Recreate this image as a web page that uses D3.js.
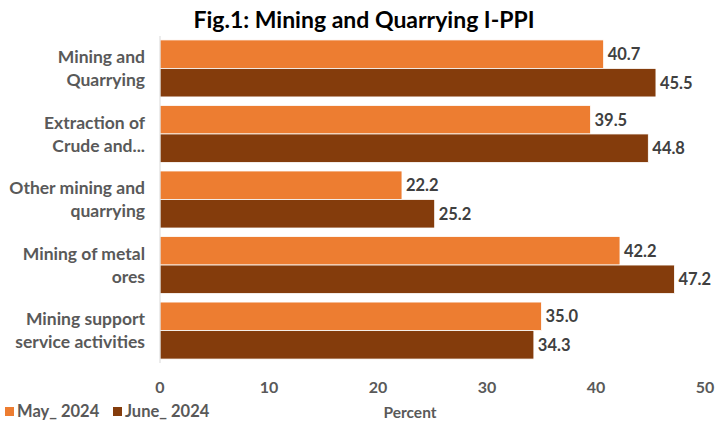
<!DOCTYPE html>
<html>
<head>
<meta charset="utf-8">
<script src="https://cdn.jsdelivr.net/npm/d3@7"></script>
<style>
  body { margin: 0; background: #fff; }
  text { font-family: Lato, "Open Sans", sans-serif; font-weight: bold; }
</style>
</head>
<body>
<svg width="715" height="426"></svg>
<script>
// data
const categories = [
  ["Mining and", "Quarrying"],
  ["Extraction of", "Crude and..."],
  ["Other mining and", "quarrying"],
  ["Mining of metal", "ores"],
  ["Mining support", "service activities"]
];
const may2024 = [40.7, 39.5, 22.2, 42.2, 35.0];
const june2024 = [45.5, 44.8, 25.2, 47.2, 34.3];
const seriesNames = ["May_ 2024", "June_ 2024"];
const xTicks = [0, 10, 20, 30, 40, 50];

const colors = ["#ED7D31", "#843C0C"];

let svg = d3.select("svg");

const plotLeft = 160, plotRight = 705, plotTop = 36, plotBottom = 363;

let yScale = d3.scaleBand()
    .domain(d3.range(categories.length))
    .range([plotTop, plotBottom])
    .paddingInner(0.13)
    .paddingOuter(0.06);

let sub = d3.scaleBand()
    .domain([0, 1])
    .range([0, yScale.bandwidth()]);

let xScale = d3.scaleLinear()
    .domain([0, 50])
    .range([plotLeft, plotRight]);

// title
svg.append("text")
    .attr("x", 364).attr("y", 28)
    .attr("text-anchor", "middle")
    .attr("font-size", 23)
    .attr("fill", "#000")
    .text("Fig.1: Mining and Quarrying I-PPI");

// bars
const rows = categories.map((c, i) => ({ i: i, vals: [may2024[i], june2024[i]] }));

let groups = svg.selectAll(".grp")
    .data(rows)
    .enter().append("g")
    .attr("class", "grp")
    .attr("transform", d => "translate(0," + yScale(d.i) + ")");

groups.selectAll("rect")
    .data(d => d.vals.map((v, s) => ({ v: v, s: s })))
    .enter().append("rect")
    .attr("x", xScale(0))
    .attr("y", d => sub(d.s))
    .attr("width", d => xScale(d.v) - xScale(0))
    .attr("height", sub.bandwidth())
    .attr("fill", d => colors[d.s])
    .attr("stroke", "#fff")
    .attr("stroke-width", 0.8);

groups.selectAll(".lbl")
    .data(d => d.vals.map((v, s) => ({ v: v, s: s })))
    .enter().append("text")
    .attr("class", "lbl")
    .attr("x", d => xScale(d.v) + 4)
    .attr("y", d => sub(d.s) + sub.bandwidth() / 2)
    .attr("dy", "0.36em")
    .attr("font-size", 16.5)
    .attr("fill", "#404040")
    .text(d => d.v.toFixed(1));

// y axis line
svg.append("line")
    .attr("x1", plotLeft).attr("x2", plotLeft)
    .attr("y1", plotTop).attr("y2", plotBottom)
    .attr("stroke", "#d9d9d9");

// category labels
let cl = svg.selectAll(".cat")
    .data(categories)
    .enter().append("text")
    .attr("class", "cat")
    .attr("text-anchor", "end")
    .attr("font-size", 17.5)
    .attr("fill", "#595959");
cl.each(function(d, i) {
    let cy = yScale(i) + yScale.bandwidth() / 2;
    d3.select(this).selectAll("tspan")
        .data(d)
        .enter().append("tspan")
        .attr("x", 145)
        .attr("y", (t, j) => cy + (j === 0 ? -11.5 : 11.5))
        .attr("dy", "0.36em")
        .text(t => t);
});

// x axis tick labels
svg.selectAll(".xt")
    .data(xTicks)
    .enter().append("text")
    .attr("class", "xt")
    .attr("x", d => xScale(d))
    .attr("y", 393)
    .attr("text-anchor", "middle")
    .attr("font-size", 16)
    .attr("fill", "#595959")
    .text(d => d);

svg.append("text")
    .attr("x", 410).attr("y", 418)
    .attr("text-anchor", "middle")
    .attr("font-size", 15.5)
    .attr("fill", "#595959")
    .text("Percent");

// legend
const legX = [5, 113];
seriesNames.forEach((n, i) => {
    svg.append("rect")
        .attr("x", legX[i]).attr("y", 407)
        .attr("width", 9).attr("height", 9)
        .attr("fill", colors[i]);
    svg.append("text")
        .attr("x", legX[i] + 12).attr("y", 417)
        .attr("font-size", 16.5)
        .attr("fill", "#595959")
        .text(n);
});
</script>
</body>
</html>
